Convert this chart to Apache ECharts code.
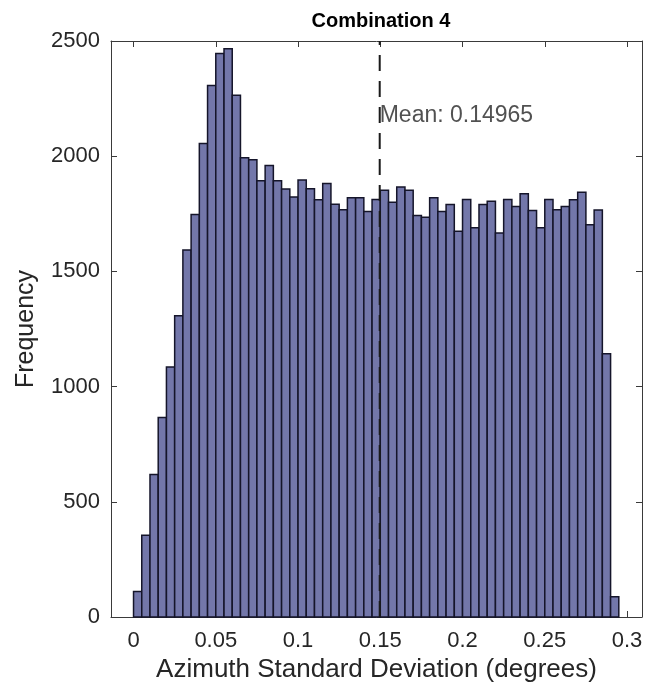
<!DOCTYPE html>
<html>
<head>
<meta charset="utf-8">
<script src="https://cdn.jsdelivr.net/npm/echarts@6/dist/echarts.min.js"></script>
<style>
html,body{margin:0;padding:0;background:#fff;}
#c{width:646px;height:693px;}
</style>
</head>
<body>
<div id="c"></div>
<script>
// ---- data ----
const titleText = 'Combination 4';
const xAxisTitle = 'Azimuth Standard Deviation (degrees)';
const yAxisTitle = 'Frequency';
const binStart = 0;
const binWidth = 0.005;
const counts = [
  111, 355, 619, 866, 1085, 1307, 1593, 1747, 2055, 2307,
  2446, 2466, 2264, 1993, 1985, 1893, 1960, 1893, 1858, 1823,
  1897, 1859, 1811, 1881, 1791, 1768, 1820, 1820, 1760, 1812,
  1852, 1800, 1866, 1852, 1743, 1735, 1820, 1760, 1790, 1674,
  1812, 1689, 1790, 1805, 1667, 1812, 1782, 1837, 1764, 1689,
  1812, 1768, 1782, 1811, 1843, 1703, 1767, 1143, 88
];
const xTicks = [0, 0.05, 0.1, 0.15, 0.2, 0.25, 0.3];
const yTicks = [0, 500, 1000, 1500, 2000, 2500];
const meanValue = 0.14965;
const meanLabel = 'Mean: 0.14965';
const meanLabelY = 2176;

// ---- build ----
const bins = counts.map((c, i) => [binStart + i * binWidth, binStart + (i + 1) * binWidth, c]);
const axisColor = '#3a3a3a';
const textColor = '#262626';
const font = 'Liberation Sans, Arial, Helvetica, sans-serif';

const chart = echarts.init(document.getElementById('c'), null, {renderer: 'canvas'});
const xBase = {
  type: 'value', min: -0.0137, max: 0.3091,
  axisLine: {show: true, onZero: false, lineStyle: {color: axisColor, width: 1}},
  axisTick: {show: true, inside: true, length: 6, customValues: xTicks, lineStyle: {color: axisColor}},
  splitLine: {show: false}
};
const yBase = {
  type: 'value', min: 0, max: 2500, interval: 500,
  axisLine: {show: true, onZero: false, lineStyle: {color: axisColor, width: 1}},
  axisTick: {show: true, inside: true, length: 6, customValues: yTicks, lineStyle: {color: axisColor}},
  splitLine: {show: false}
};
chart.setOption({
  backgroundColor: '#ffffff',
  animation: false,
  textStyle: {fontFamily: font},
  title: {
    text: titleText, left: 376, top: 6, textAlign: 'center',
    textStyle: {fontFamily: font, fontWeight: 'bold', fontSize: 20, color: '#000'}
  },
  grid: {left: 111, right: 4, top: 41, bottom: 76, containLabel: false},
  xAxis: [
    Object.assign({}, xBase, {
      position: 'bottom',
      axisLabel: {show: true, customValues: xTicks, fontSize: 22, color: textColor, margin: 13, fontFamily: font,
        formatter: v => String(Math.round(v * 1000) / 1000)},
      name: xAxisTitle, nameLocation: 'middle', nameGap: 34,
      nameTextStyle: {fontSize: 26, color: textColor, fontFamily: font}
    }),
    Object.assign({}, xBase, {position: 'top', axisLabel: {show: false}})
  ],
  yAxis: [
    Object.assign({}, yBase, {
      position: 'left',
      axisLabel: {show: true, customValues: yTicks, fontSize: 22, color: textColor, margin: 11, fontFamily: font,
        formatter: v => String(v)},
      name: yAxisTitle, nameLocation: 'middle', nameGap: 72,
      nameTextStyle: {fontSize: 25, color: textColor, fontFamily: font}
    }),
    Object.assign({}, yBase, {position: 'right', axisLabel: {show: false}})
  ],
  series: [
    {
      type: 'custom',
      xAxisIndex: 0, yAxisIndex: 0,
      data: bins,
      encode: {x: [0, 1], y: 2},
      renderItem: function (params, api) {
        const p0 = api.coord([api.value(0), api.value(2)]);
        const p1 = api.coord([api.value(1), 0]);
        return {
          type: 'rect',
          shape: {x: p0[0], y: p0[1], width: p1[0] - p0[0], height: p1[1] - p0[1]},
          style: {fill: '#7377aa', stroke: '#15152a', lineWidth: 1.5}
        };
      },
      z: 2
    },
    {
      type: 'line',
      xAxisIndex: 0, yAxisIndex: 0,
      data: [[meanValue, 0], [meanValue, 2500]],
      symbol: 'none',
      lineStyle: {color: '#1a1a1a', width: 2, type: [16, 10]},
      z: 3
    },
    {
      type: 'scatter',
      xAxisIndex: 0, yAxisIndex: 0,
      data: [[meanValue, meanLabelY]],
      symbolSize: 0,
      label: {show: true, position: 'right', distance: 0, formatter: meanLabel,
        fontSize: 23, color: textColor, fontFamily: font},
      z: 4
    }
  ]
});
</script>
</body>
</html>
